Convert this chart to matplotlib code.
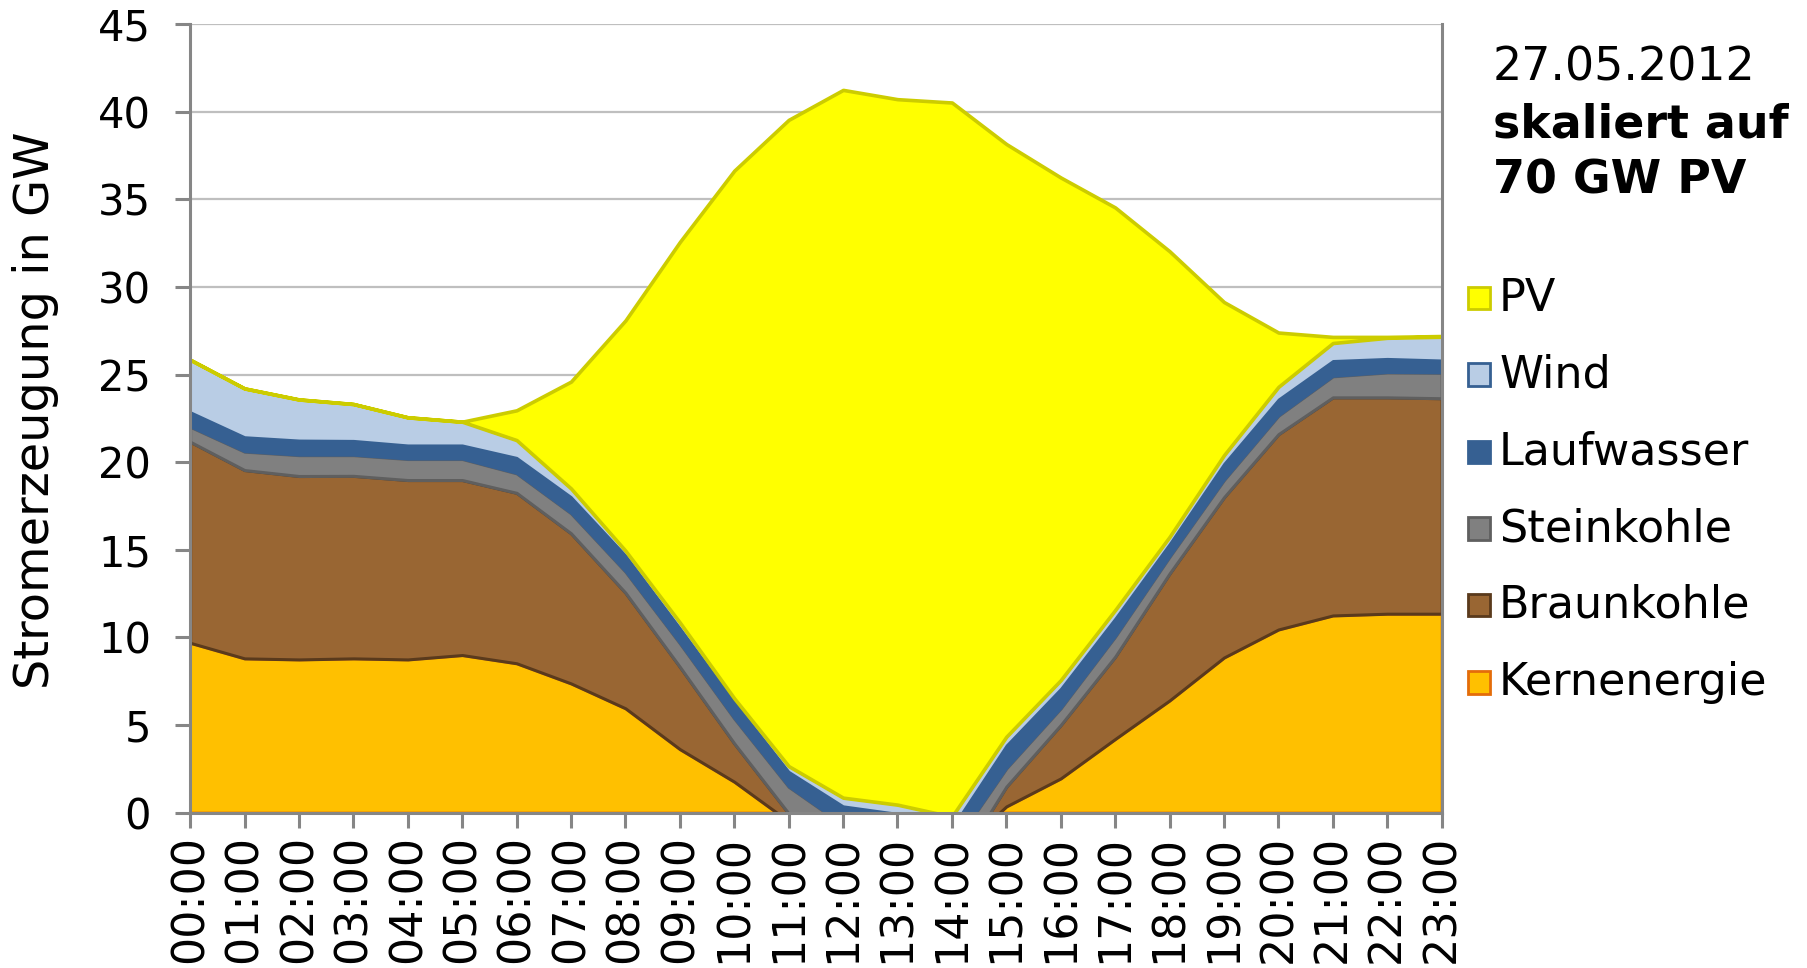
import matplotlib
matplotlib.use("Agg")
import matplotlib.pyplot as plt
from matplotlib.patches import Rectangle

# Stromerzeugung 27.05.2012, PV skaliert auf 70 GW (Werte in GW)
hours = [f"{h:02d}:00" for h in range(24)]

kernenergie = [9.69, 8.80, 8.74, 8.80, 8.74, 8.99, 8.52, 7.37, 5.95, 3.62, 1.76, -0.50,
               -1.50, -2.00, -2.50, 0.35, 1.95, 4.20, 6.40, 8.85, 10.45, 11.25, 11.35, 11.35]
braunkohle = [11.48, 10.75, 10.47, 10.42, 10.24, 9.99, 9.73, 8.57, 6.60, 4.70, 2.19, 0.45,
              -0.50, -0.20, -1.00, 1.13, 3.05, 4.70, 7.25, 9.15, 11.15, 12.45, 12.35, 12.30]
steinkohle = [0.85, 1.05, 1.19, 1.18, 1.20, 1.20, 1.11, 1.14, 1.20, 1.34, 1.42, 1.52,
              1.30, 1.20, 1.50, 1.04, 0.95, 1.14, 0.95, 0.98, 1.05, 1.20, 1.42, 1.45]
laufwasser = [0.86, 0.85, 0.86, 0.84, 0.80, 0.80, 0.91, 0.95, 0.95, 0.89, 0.96, 0.88,
              1.08, 0.95, 1.15, 1.33, 1.14, 1.06, 0.76, 0.95, 0.95, 0.90, 0.80, 0.73]
wind = [2.97, 2.76, 2.32, 2.08, 1.58, 1.33, 0.99, 0.47, 0.25, 0.30, 0.19, 0.30,
        0.47, 0.50, 0.62, 0.48, 0.47, 0.46, 0.38, 0.47, 0.70, 1.00, 1.18, 1.33]
pv = [0.00, 0.00, 0.00, 0.00, 0.00, 0.00, 1.70, 6.10, 13.14, 21.72, 30.12, 36.89,
      40.40, 40.27, 40.76, 33.83, 28.69, 22.98, 16.30, 8.74, 3.10, 0.35, 0.05, 0.04]

series = [kernenergie, braunkohle, steinkohle, laufwasser, wind, pv]
names = ["Kernenergie", "Braunkohle", "Steinkohle", "Laufwasser", "Wind", "PV"]
fills = ["#FFC000", "#996633", "#808080", "#366092", "#B9CDE5", "#FFFF00"]
edges = ["#E46C0A", "#5A3A1C", "#5F5F5F", "#366092", "#366092", "#CCCC00"]
widths = [2.0, 2.2, 2.2, 1.5, 1.5, 2.6]

plt.rcParams["font.family"] = ["DejaVu Sans"]

fig = plt.figure(figsize=(18.07, 9.68), dpi=100)
ax = fig.add_axes([0.1052, 0.1606, 0.6926, 0.8144])

x = list(range(len(hours)))
polys = ax.stackplot(x, *series, colors=fills)
for poly, ec, lw in zip(polys, edges, widths):
    poly.set_edgecolor(ec)
    poly.set_linewidth(lw)
    poly.set_joinstyle("round")

ax.set_xlim(0, 23)
ax.set_ylim(0, 45)
ax.set_yticks(range(0, 46, 5))
ax.set_xticks(x)
ax.set_xticklabels(hours, rotation=90)
ax.yaxis.grid(True, color="#BFBFBF", linewidth=1.6)
ax.set_axisbelow(True)

for side in ["left", "bottom", "right"]:
    ax.spines[side].set_color("#868686")
    ax.spines[side].set_linewidth(2.2)
ax.spines["top"].set_visible(False)
ax.tick_params(axis="both", colors="#868686", width=2.2, length=11, labelcolor="black")
ax.tick_params(axis="x", pad=5, labelsize=32)
ax.tick_params(axis="y", pad=17, labelsize=30)

ax.set_ylabel("Stromerzeugung in GW", fontsize=34.5)
ax.yaxis.set_label_coords(-0.105, 0.51)

fig.text(0.826, 0.930, "27.05.2012", fontsize=33, va="center")
fig.text(0.826, 0.871, "skaliert auf", fontsize=33, fontweight="bold", va="center")
fig.text(0.826, 0.813, "70 GW PV", fontsize=33, fontweight="bold", va="center")

# Legende von oben nach unten: PV ... Kernenergie
legend_y = [0.692, 0.613, 0.533, 0.454, 0.375, 0.295]
for i, ly in enumerate(legend_y):
    k = len(series) - 1 - i
    fig.patches.append(Rectangle((0.8126, ly - 0.0115), 0.0122, 0.023,
                                 transform=fig.transFigure, facecolor=fills[k],
                                 edgecolor=edges[k], linewidth=2.0))
    fig.text(0.8296, ly, names[k], fontsize=32, va="center")

fig.savefig("out.png", dpi=100)
